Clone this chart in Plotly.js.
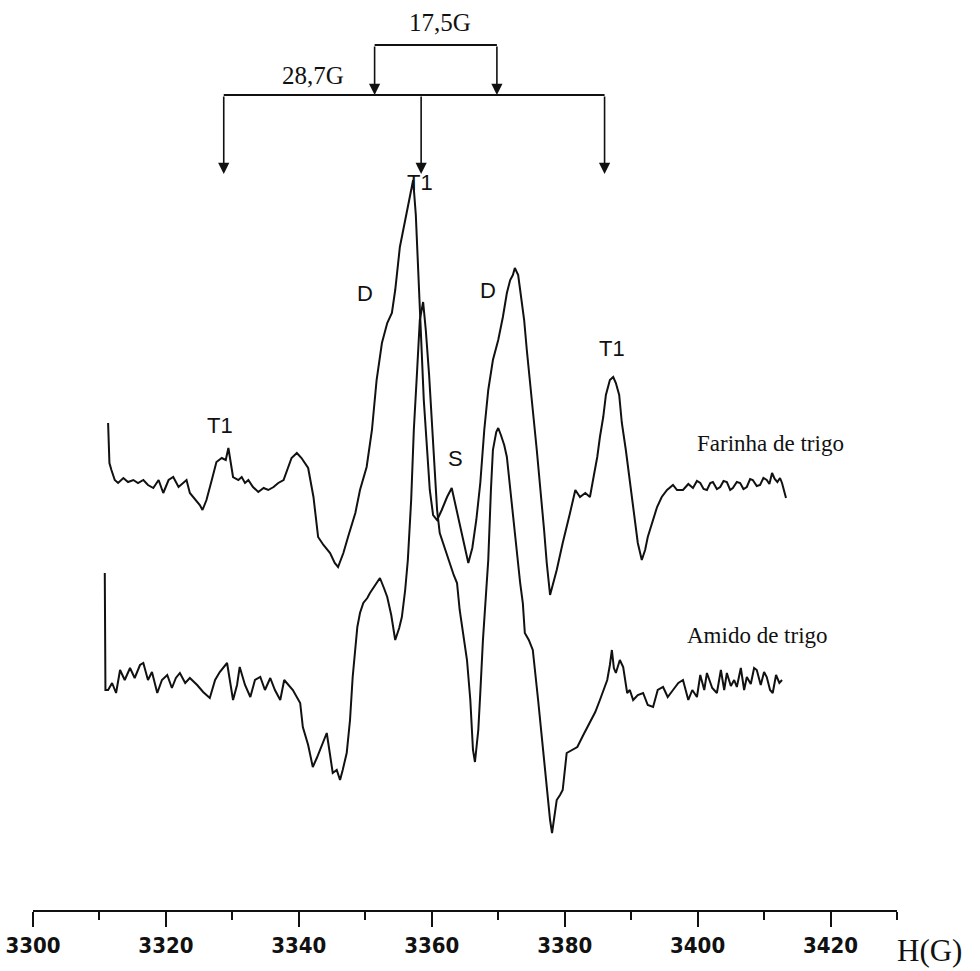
<!DOCTYPE html>
<html>
<head>
<meta charset="utf-8">
<script src="https://cdn.plot.ly/plotly-3.0.1.min.js"></script>
<style>
  html, body { margin: 0; padding: 0; background: #ffffff; }
  #chart { width: 980px; height: 971px; }
</style>
</head>
<body>
<div id="chart"></div>
<script>
// ---- Data (field in gauss, EPR signal in arbitrary units) ----
const farinhaField = [3311.3,3311.5,3311.8,3312.3,3312.8,3313.6,3314.3,3315.1,3315.8,3316.6,3317.3,3318.1,3318.9,3319.6,3320.4,3321.1,3321.9,3322.6,3323.1,3323.6,3324.4,3325.1,3325.5,3326.1,3326.9,3327.6,3328.4,3329.0,3329.4,3329.7,3330.1,3330.9,3331.4,3331.9,3332.4,3333.1,3333.9,3334.7,3335.4,3336.2,3336.9,3337.7,3338.2,3338.9,3339.7,3340.4,3341.4,3342.2,3342.9,3343.7,3344.7,3345.4,3345.9,3346.7,3347.4,3348.5,3349.2,3350.2,3351.0,3351.7,3352.5,3353.3,3354.0,3354.5,3355.2,3355.7,3356.4,3357.2,3357.6,3357.9,3358.4,3358.8,3359.3,3359.7,3360.2,3360.8,3361.5,3362.3,3363.0,3363.6,3364.2,3364.9,3365.5,3366.1,3366.7,3367.3,3367.9,3368.5,3369.2,3370.0,3370.7,3371.3,3371.8,3372.2,3372.5,3373.0,3373.3,3373.9,3374.3,3374.8,3375.2,3375.8,3376.3,3376.9,3377.3,3377.8,3378.2,3378.8,3379.7,3380.3,3380.8,3381.6,3382.3,3383.1,3383.8,3384.4,3384.9,3385.3,3385.8,3386.2,3386.8,3387.3,3387.7,3388.2,3388.6,3389.2,3389.8,3390.4,3391.0,3391.6,3392.1,3392.5,3393.1,3393.9,3394.6,3395.4,3396.3,3396.9,3397.8,3398.6,3399.3,3399.9,3400.4,3400.9,3401.4,3401.9,3402.3,3402.9,3403.4,3403.9,3404.4,3404.9,3405.3,3405.9,3406.4,3406.9,3407.4,3407.9,3408.3,3408.9,3409.4,3409.9,3410.4,3410.8,3411.2,3411.6,3412.0,3412.4,3412.7,3413.3];
const farinhaSignal = [64,24,17,7,4,9,5,7,4,7,2,-1,7,-6,7,10,0,4,7,-6,-13,-18,-23,-13,7,25,29,27,39,25,10,7,10,4,7,0,-5,-1,-3,0,4,7,17,29,34,29,19,-10,-50,-58,-66,-76,-80,-66,-50,-26,-3,20,57,107,144,164,174,197,240,257,282,307,272,227,157,87,37,-3,-28,-33,-23,-10,-1,-18,-38,-58,-76,-61,-33,4,57,97,127,147,170,194,207,212,219,212,197,167,137,107,77,37,4,-43,-76,-108,-98,-83,-56,-38,-26,-3,-10,-6,-10,12,30,50,70,92,107,110,104,92,64,37,4,-28,-56,-73,-63,-50,-38,-20,-10,-3,2,-3,-3,3,-1,6,4,-2,-3,4,5,-2,0,6,5,-3,-1,5,4,-2,0,8,7,1,2,9,7,3,14,8,5,9,4,-11];

const amidoField = [3310.8,3310.9,3311.3,3311.9,3312.5,3313.1,3313.8,3314.6,3315.3,3316.1,3316.6,3317.3,3317.9,3318.7,3319.4,3320.2,3320.9,3321.5,3322.1,3322.9,3323.6,3324.7,3325.6,3326.6,3327.4,3328.1,3329.2,3329.6,3330.1,3330.7,3331.1,3331.9,3332.7,3333.4,3334.2,3334.9,3335.7,3336.4,3337.2,3337.8,3338.4,3339.1,3340.2,3340.6,3341.4,3342.1,3342.7,3343.2,3343.8,3344.2,3344.7,3345.1,3345.7,3346.2,3346.6,3347.2,3347.7,3348.1,3348.8,3349.2,3349.7,3350.3,3350.7,3351.5,3352.2,3352.8,3353.3,3353.9,3354.5,3355.1,3355.5,3356.0,3356.4,3356.9,3357.3,3357.8,3358.2,3358.7,3359.1,3359.6,3360.0,3360.5,3360.8,3361.2,3362.0,3362.7,3363.3,3363.8,3364.2,3364.9,3365.3,3365.8,3366.2,3366.5,3367.0,3367.3,3367.7,3368.2,3368.5,3368.9,3369.2,3369.7,3370.0,3370.4,3370.9,3371.3,3371.8,3372.2,3372.8,3373.3,3373.7,3374.0,3374.6,3375.2,3376.0,3376.7,3377.3,3377.8,3378.1,3378.5,3378.8,3379.3,3379.7,3380.3,3381.1,3381.9,3382.8,3383.8,3384.6,3385.3,3385.9,3386.4,3386.8,3387.1,3387.4,3387.7,3388.3,3388.8,3389.4,3389.8,3390.3,3391.0,3391.8,3392.5,3393.3,3394.0,3394.8,3395.5,3396.3,3397.1,3397.8,3398.6,3399.2,3399.9,3400.4,3401.0,3401.4,3402.2,3402.9,3403.5,3404.0,3404.4,3405.0,3405.5,3405.9,3406.5,3407.0,3407.4,3408.0,3408.5,3408.9,3409.5,3410.0,3410.4,3410.9,3411.3,3411.8,3412.3,3412.7];
const amidoSignal = [110,-7,-7,0,-10,13,3,15,5,18,20,3,11,-10,3,8,-5,5,10,0,5,-2,-9,-15,3,11,20,3,-17,-2,16,-2,-14,3,6,-7,5,-7,-17,3,-2,-7,-20,-44,-62,-84,-75,-67,-57,-50,-72,-90,-87,-97,-87,-70,-37,6,56,70,80,85,90,98,105,95,86,68,43,55,66,93,123,183,253,313,363,381,353,308,266,213,173,150,133,120,108,100,73,43,23,-17,-67,-79,-47,-10,43,93,123,193,233,251,255,248,238,226,193,166,133,100,80,50,43,33,-17,-64,-107,-137,-150,-132,-117,-112,-107,-70,-67,-64,-52,-40,-29,-17,-7,3,18,33,15,10,23,16,-10,-7,-17,-12,-10,-22,-24,-7,-4,-14,-7,0,3,-17,-7,-14,8,-7,10,-5,-10,13,-7,10,-3,3,-4,15,-7,6,-1,15,13,-2,11,6,-7,-10,8,0,3];

const tickVals = [3300, 3320, 3340, 3360, 3380, 3400, 3420];
const tickText = ['3300', '3320', '3340', '3360', '3380', '3400', '3420'];
const minorTickVals = [3310, 3330, 3350, 3370, 3390, 3410, 3430];

// Hyperfine markers (field positions, gauss)
const outerLines = [3328.7, 3358.4, 3386.0];   // 28,7G triplet
const innerLines = [3351.4, 3369.8];           // 17,5G doublet

// Peak labels
const peakLabels = ['T1', 'D', 'T1', 'S', 'D', 'T1'];
const peakLabelField = [3328.1, 3350.0, 3358.2, 3363.5, 3368.5, 3387.1];
const peakLabelSignal = [62, 194, 305, 29, 197, 139];

// ---- layout helpers (positions / styles) ----
const farinhaOffset = 0;
const amidoOffset = -196;
const outerBarLevel = 392, outerTipLevel = 313;
const innerBarLevel = 442, innerTipLevel = 392;

const ink = '#111111';
const traces = [
  {
    x: farinhaField,
    y: farinhaSignal.map(v => v + farinhaOffset),
    mode: 'lines', type: 'scatter', name: 'Farinha de trigo',
    line: { color: ink, width: 2 }, hoverinfo: 'skip'
  },
  {
    x: amidoField,
    y: amidoSignal.map(v => v + amidoOffset),
    mode: 'lines', type: 'scatter', name: 'Amido de trigo',
    line: { color: ink, width: 2 }, hoverinfo: 'skip'
  }
];

const annotations = [];
const sansFont = 'Liberation Sans, Arial, sans-serif';
const serifFont = 'Liberation Serif, Times New Roman, serif';

peakLabels.forEach((t, i) => {
  annotations.push({
    x: peakLabelField[i], y: peakLabelSignal[i], xref: 'x', yref: 'y',
    text: t, showarrow: false, xanchor: 'center', yanchor: 'middle',
    font: { family: sansFont, size: 22, color: ink }
  });
});

annotations.push({
  x: 3411.0, y: 44, xref: 'x', yref: 'y', text: 'Farinha de trigo', showarrow: false,
  xanchor: 'center', yanchor: 'middle', font: { family: serifFont, size: 23, color: ink }
});
annotations.push({
  x: 3409.0, y: -148, xref: 'x', yref: 'y', text: 'Amido de trigo', showarrow: false,
  xanchor: 'center', yanchor: 'middle', font: { family: serifFont, size: 23, color: ink }
});
annotations.push({
  x: 3361.2, y: 465, xref: 'x', yref: 'y', text: '17,5G', showarrow: false,
  xanchor: 'center', yanchor: 'middle', font: { family: serifFont, size: 25, color: ink }
});
annotations.push({
  x: 3342.1, y: 412, xref: 'x', yref: 'y', text: '28,7G', showarrow: false,
  xanchor: 'center', yanchor: 'middle', font: { family: serifFont, size: 25, color: ink }
});
annotations.push({
  x: 1.038, y: -0.045, xref: 'paper', yref: 'paper', text: 'H(G)', showarrow: false,
  xanchor: 'center', yanchor: 'middle', font: { family: serifFont, size: 31, color: ink }
});

outerLines.forEach(g => {
  annotations.push({
    x: g, y: outerTipLevel, ax: g, ay: outerBarLevel, xref: 'x', yref: 'y', axref: 'x', ayref: 'y',
    text: '', showarrow: true, arrowhead: 2, arrowsize: 1.4, arrowwidth: 1.6, arrowcolor: ink
  });
});
innerLines.forEach(g => {
  annotations.push({
    x: g, y: innerTipLevel, ax: g, ay: innerBarLevel, xref: 'x', yref: 'y', axref: 'x', ayref: 'y',
    text: '', showarrow: true, arrowhead: 2, arrowsize: 1.4, arrowwidth: 1.6, arrowcolor: ink
  });
});

const shapes = [
  { type: 'line', xref: 'x', yref: 'y', x0: outerLines[0], x1: outerLines[2], y0: outerBarLevel, y1: outerBarLevel,
    line: { color: ink, width: 1.8 } },
  { type: 'line', xref: 'x', yref: 'y', x0: innerLines[0], x1: innerLines[1], y0: innerBarLevel, y1: innerBarLevel,
    line: { color: ink, width: 1.8 } }
];

const layout = {
  width: 980, height: 971,
  margin: { l: 33, r: 83, t: 0, b: 61, pad: 0 },
  paper_bgcolor: '#ffffff', plot_bgcolor: '#ffffff',
  showlegend: false,
  xaxis: {
    range: [3300, 3430], showgrid: false, zeroline: false,
    showline: true, linecolor: ink, linewidth: 2,
    tickmode: 'array', tickvals: tickVals, ticktext: tickText,
    ticks: 'outside', ticklen: 15, tickwidth: 2, tickcolor: ink,
    tickfont: { family: 'DejaVu Sans Condensed, Liberation Sans Narrow, Arial Narrow, sans-serif', size: 22, weight: 'bold', color: ink },
    minor: { tickmode: 'array', tickvals: minorTickVals, ticks: 'outside', ticklen: 8, tickwidth: 2, tickcolor: ink, showgrid: false },
    fixedrange: true
  },
  yaxis: { visible: false, range: [-423, 487], fixedrange: true, showgrid: false, zeroline: false },
  annotations: annotations,
  shapes: shapes
};

Plotly.newPlot('chart', traces, layout, { displayModeBar: false, staticPlot: true });
</script>
</body>
</html>
